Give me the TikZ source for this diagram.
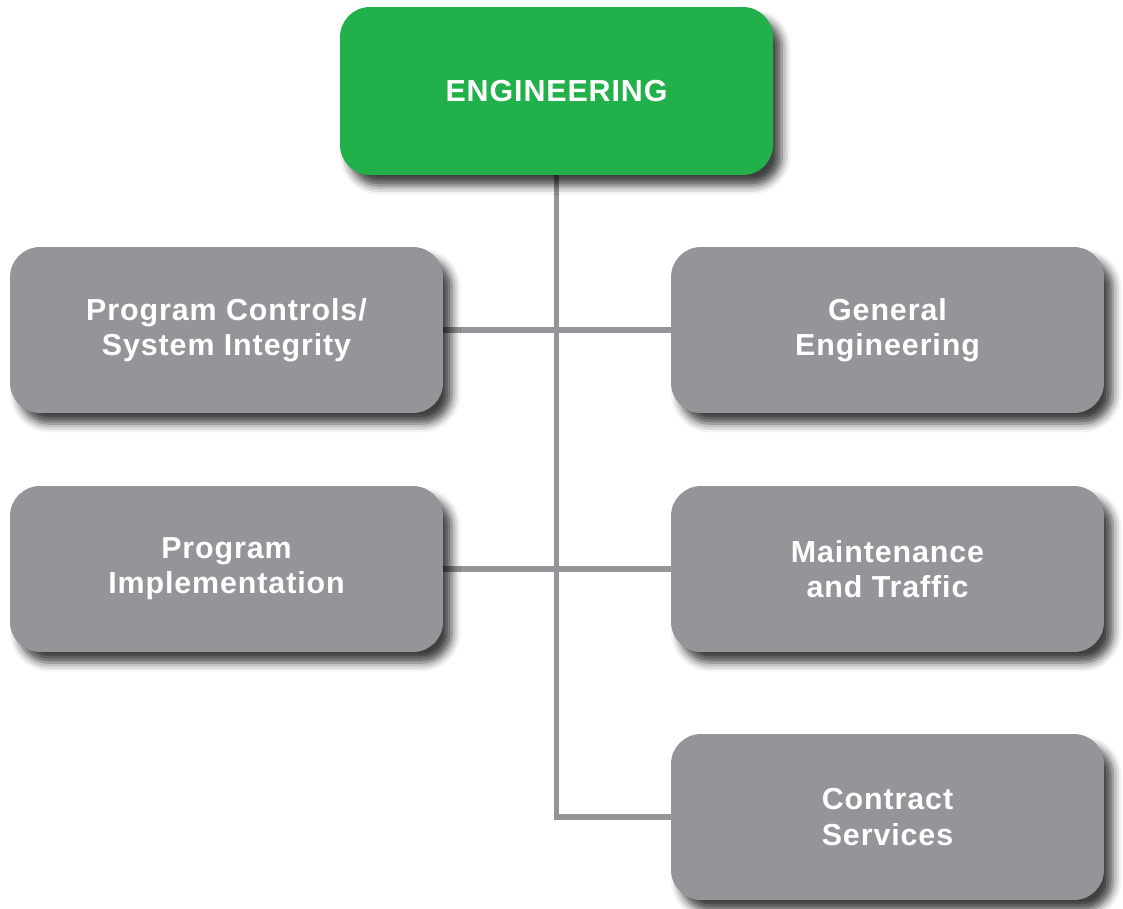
\documentclass[tikz,border=0pt]{standalone}
\usepackage{fontspec}
\newfontfamily\boxfont[LetterSpace=3]{Liberation Sans}
\usetikzlibrary{shadows.blur,backgrounds}

\definecolor{enggreen}{RGB}{34,176,75}
\definecolor{unitgray}{RGB}{147,149,152}

\tikzset{
  unit/.style={fill=unitgray, rounded corners=0.6cm, minimum width=8.66cm,
    minimum height=3.32cm, text=white, align=center,
    font=\boxfont\bfseries\fontsize{17.3}{20}\selectfont,
    blur shadow={shadow xshift=5pt, shadow yshift=-6pt,
      shadow blur radius=5pt, shadow opacity=75}},
  head/.style={unit, fill=enggreen, minimum height=3.36cm},
  link/.style={draw=unitgray, line width=3.4pt}
}

\begin{document}
\begin{tikzpicture}[x=0.02cm, y=-0.02cm]
  \useasboundingbox (0,0) rectangle (1123,909);

  \node[head] (eng) at (556.5,91) {ENGINEERING};
  \node[unit] (pc) at (226.5,330) {Program Controls/\\System Integrity};
  \node[unit] (ge) at (887.5,330) {General\\Engineering};
  \node[unit] (pi) at (226.5,569) {Program\\Implementation};
  \node[unit] (mt) at (887.5,569) {Maintenance\\and Traffic};
  \node[unit] (cs) at (887.5,817) {Contract\\Services};

  % connectors go under the boxes
  \begin{scope}[on background layer]
    \path[link]
      (eng.south) |- (cs.west)
      (pc.east) -- (ge.west)
      (pi.east) -- (mt.west);
  \end{scope}
\end{tikzpicture}
\end{document}
